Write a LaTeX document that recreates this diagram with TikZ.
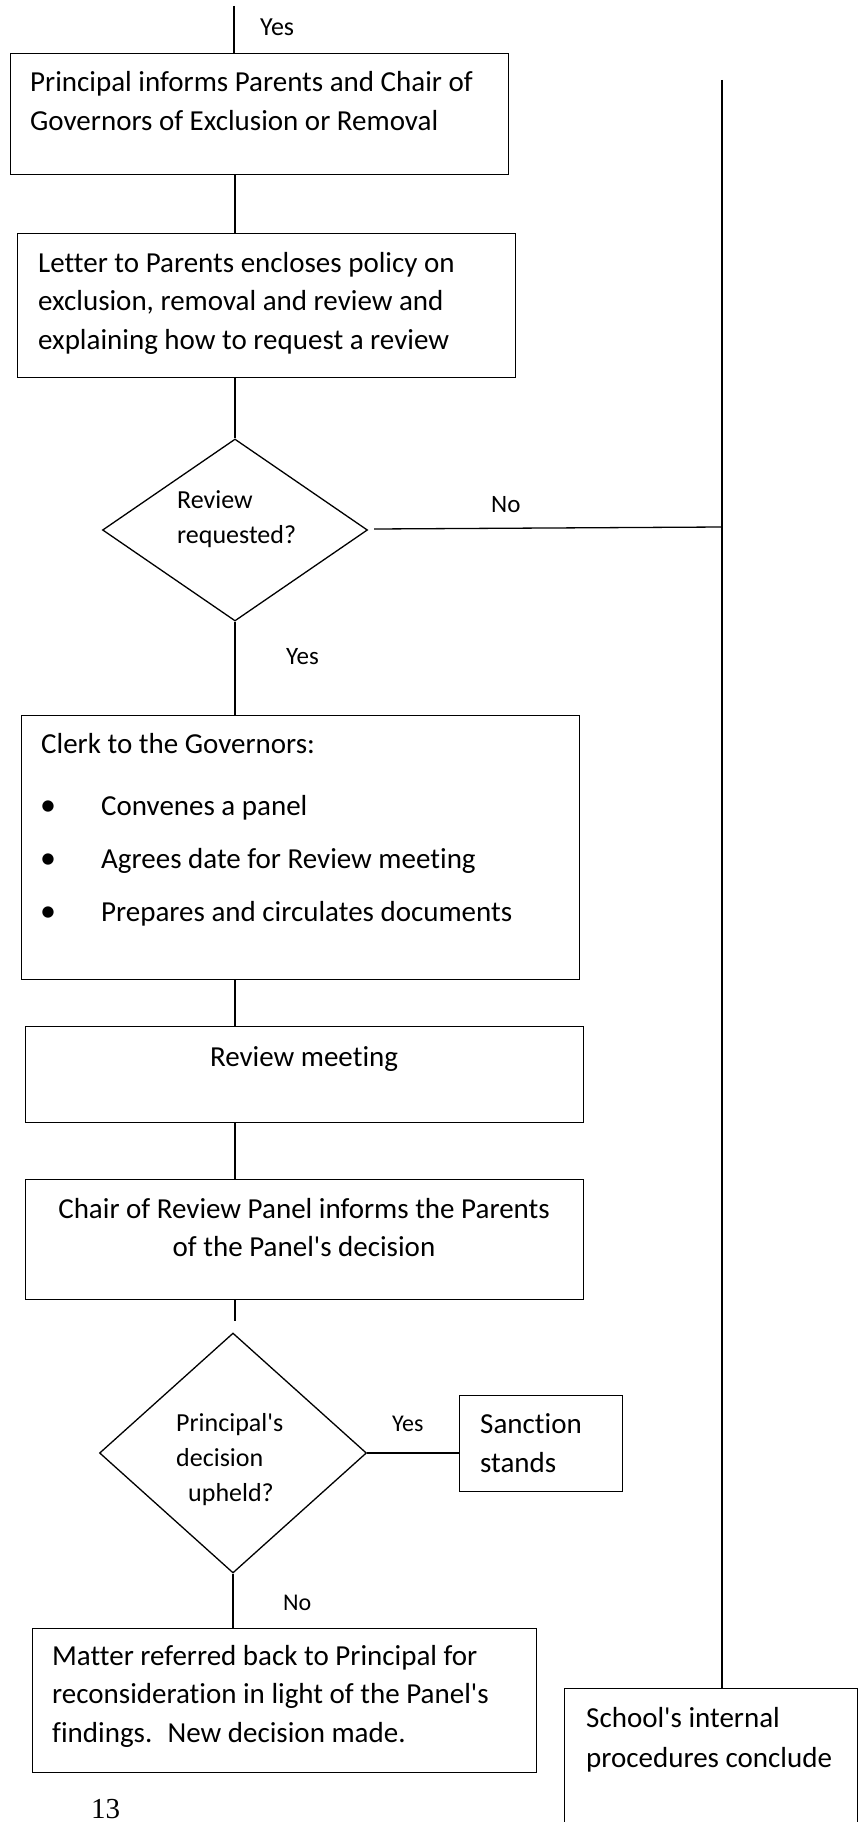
\documentclass[tikz,border=0pt]{standalone}
\usepackage{fontspec}
\setmainfont{Carlito}[Ligatures={TeXOff,NoCommon}]
\newfontfamily\timesf{Liberation Serif}
\usetikzlibrary{shapes.geometric,calc}
\newcommand{\mylines}[1]{\begin{tabular}[t]{@{}l@{}}#1\end{tabular}}
\newcommand{\mycentre}[1]{\begin{tabular}[t]{@{}c@{}}#1\end{tabular}}
\tikzset{
  box/.style={draw, rectangle, line width=1.3pt, inner sep=0pt, anchor=north west},
  dia/.style={draw, diamond, line width=1.3pt, inner sep=0pt},
  conn/.style={line width=1.3pt},
  txt/.style={inner sep=0pt, anchor=base west, font=\fontsize{29}{38.6}\selectfont},
  ctxt/.style={inner sep=0pt, anchor=base, font=\fontsize{29}{38}\selectfont},
  small/.style={inner sep=0pt, anchor=base west, font=\fontsize{26}{35}\selectfont},
  lbl/.style={inner sep=0pt, anchor=base west, font=\fontsize{25}{30}\selectfont},
  bul/.style={inner sep=0pt, anchor=base, font=\fontsize{32}{38}\selectfont}
}
\begin{document}
\begin{tikzpicture}[x=1pt,y=-1pt]
\useasboundingbox (0,0) rectangle (866,1822);
\clip (0,0) rectangle (866,1822);
\coordinate (spine) at (235,0);
\coordinate (top) at (234,6);
\coordinate (rtop) at (722,80);
% boxes
\node[box, minimum width=498pt, minimum height=121pt] (b1) at (10,53) {};
\node[box, minimum width=498pt, minimum height=144pt] (b2) at (17,233) {};
\node[dia, minimum width=265pt, minimum height=182pt] (d1) at (235,530) {};
\node[box, minimum width=558pt, minimum height=264pt] (b3) at (21,715) {};
\node[box, minimum width=558pt, minimum height=96pt] (b4) at (25,1026) {};
\node[box, minimum width=558pt, minimum height=120pt] (b5) at (25,1179) {};
\node[dia, minimum width=267pt, minimum height=240pt] (d2) at (233,1453) {};
\node[box, minimum width=163pt, minimum height=96pt] (sanc) at (459,1395) {};
\node[box, minimum width=504pt, minimum height=144pt] (b6) at (32,1628) {};
\node[box, minimum width=293pt, minimum height=220pt] (b7) at (564,1688) {};
% connectors
\draw[conn] (top) -- (top |- b1.north);
\draw[conn] (b1.south -| spine) -- (b2.north -| spine);
\draw[conn] (b2.south -| spine) -- (d1.north);
\draw[conn] (d1.south) -- (b3.north -| spine);
\draw[conn] ($(d1.east)+(6,-1)$) -- ($(d1.east -| rtop)+(0,-3)$);
\draw[conn] (rtop) -- (rtop |- b7.north);
\draw[conn] (b3.south -| spine) -- (b4.north -| spine);
\draw[conn] (b4.south -| spine) -- (b5.north -| spine);
\draw[conn] (b5.south -| spine) -- ($(d2.north)+(2,-11)$);
\draw[conn] (d2.east) -- (sanc.west |- d2.east);
\draw[conn] (d2.south) -- (b6.north -| d2.south);
% texts
\node[lbl, font=\fontsize{26}{30}\selectfont] (yes0) at (260,36) {Yes};
\node[txt] (t1) at (30,92) {\mylines{Principal informs Parents and Chair of\\Governors of Exclusion or Removal}};
\node[txt] (t2) at (38,272) {\mylines{Letter to Parents encloses policy on\\exclusion, removal and review and\\explaining how to request a review}};
\node[small] (t3) at (177,508) {\mylines{Review\\requested?}};
\node[lbl] (no1) at (491,512) {No};
\node[lbl] (yes1) at (286,664) {Yes};
\node[txt] (t4) at (41,753) {Clerk to the Governors:};
\node[bul] (u1) at (48,815) {•};
\node[txt] (i1) at (101,815) {Convenes a panel};
\node[bul] (u2) at (48,868) {•};
\node[txt] (i2) at (101,868) {Agrees date for Review meeting};
\node[bul] (u3) at (48,921) {•};
\node[txt] (i3) at (101,921) {Prepares and circulates documents};
\node[ctxt] (t5) at (304,1066) {Review meeting};
\node[ctxt] (t6) at (304,1218) {\mycentre{Chair of Review Panel informs the Parents\\of the Panel's decision}};
\node[small] (t7) at (176,1431) {\mylines{Principal's\\decision\\\hspace*{12pt}upheld?}};
\node[lbl, font=\fontsize{24}{30}\selectfont] (yes2) at (392,1431) {Yes};
\node[txt, font=\fontsize{29}{39}\selectfont] (t8) at (480,1433) {\mylines{Sanction\\stands}};
\node[lbl, font=\fontsize{24}{30}\selectfont] (no2) at (283,1610) {No};
\node[txt] (t9) at (52,1665) {\mylines{Matter referred back to Principal for\\reconsideration in light of the Panel's\\findings.~ New decision made.}};
\node[txt, font=\fontsize{29}{40}\selectfont] (t10) at (586,1727) {\mylines{School's internal\\procedures conclude}};
\node[inner sep=0pt, anchor=base west, font=\timesf\fontsize{29}{30}\selectfont] (pg) at (91,1818) {13};
\end{tikzpicture}
\end{document}
